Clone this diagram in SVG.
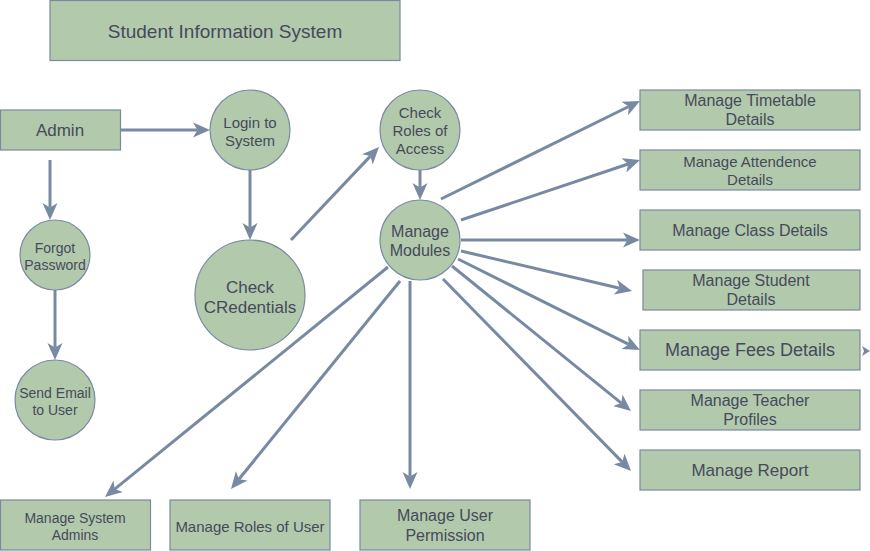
<svg xmlns="http://www.w3.org/2000/svg" width="870" height="551" viewBox="0 0 870 551">
<defs>
<style>
.n{fill:#B2C9AB;stroke:#788AA3;stroke-width:1.2}
.t{font-family:"Liberation Sans",Arial,sans-serif;fill:#46495D;text-anchor:middle}
.c{fill:none;stroke:#788AA3;stroke-width:3;marker-end:url(#ah)}
</style>
<marker id="ah" markerUnits="userSpaceOnUse" markerWidth="18" markerHeight="16" viewBox="0 0 18 16" refX="4.5" refY="8" orient="auto">
<path d="M0,0.5 L17,8 L0,15.5 L4.5,8 Z" fill="#788AA3"/>
</marker>
</defs>
<rect width="870" height="551" fill="#FFFFFF"/>
<g id="connectors">
<line class="c" x1="121" y1="130" x2="197.5" y2="130"/>
<line class="c" x1="50" y1="160" x2="50" y2="207.5"/>
<line class="c" x1="55" y1="290" x2="55" y2="347.5"/>
<line class="c" x1="250" y1="170" x2="250" y2="227.5"/>
<line class="c" x1="291" y1="240" x2="370.4" y2="156.1"/>
<line class="c" x1="420" y1="170" x2="420" y2="187.5"/>
<line class="c" x1="441" y1="199" x2="628.8" y2="106.5"/>
<line class="c" x1="461" y1="220" x2="628.2" y2="164"/>
<line class="c" x1="461" y1="240" x2="627.5" y2="240"/>
<line class="c" x1="461" y1="251" x2="619.8" y2="288.2"/>
<line class="c" x1="458" y1="259" x2="628.8" y2="344.4"/>
<line class="c" x1="452" y1="266" x2="621.3" y2="403.1"/>
<line class="c" x1="443" y1="279" x2="622.3" y2="462.1"/>
<line class="c" x1="410" y1="281" x2="410" y2="476.5"/>
<line class="c" x1="400" y1="281" x2="238.9" y2="479.3"/>
<line class="c" x1="388" y1="267" x2="114.7" y2="489.1"/>
<path d="M862,346 L870,351 L862,356 L864,351 Z" fill="#788AA3"/>
</g>
<g id="title"><rect class="n" x="50" y="0.5" width="350" height="60"/><text class="t" x="225" y="38" font-size="19">Student Information System</text></g>
<g id="admin"><rect class="n" x="0.5" y="110" width="120" height="40"/><text class="t" x="60" y="136" font-size="17">Admin</text></g>
<g id="login"><circle class="n" cx="250" cy="130" r="40"/><text class="t" font-size="15"><tspan x="250" y="128.3">Login to</tspan><tspan x="250" y="146.3">System</tspan></text></g>
<g id="forgot"><circle class="n" cx="55" cy="255" r="35"/><text class="t" font-size="14"><tspan x="55" y="253">Forgot</tspan><tspan x="55" y="269.8">Password</tspan></text></g>
<g id="sendemail"><circle class="n" cx="55" cy="400" r="40"/><text class="t" font-size="14"><tspan x="55" y="398">Send Email</tspan><tspan x="55" y="414.8">to User</tspan></text></g>
<g id="checkcred"><circle class="n" cx="250" cy="295" r="55"/><text class="t" font-size="17"><tspan x="250" y="292.5">Check</tspan><tspan x="250" y="313">CRedentials</tspan></text></g>
<g id="checkroles"><circle class="n" cx="420" cy="130" r="40"/><text class="t" font-size="15"><tspan x="420" y="118.3">Check</tspan><tspan x="420" y="136.3">Roles of</tspan><tspan x="420" y="154.3">Access</tspan></text></g>
<g id="modules"><circle class="n" cx="420" cy="240" r="40"/><text class="t" font-size="16"><tspan x="420" y="236.6">Manage</tspan><tspan x="420" y="255.8">Modules</tspan></text></g>
<g id="timetable"><rect class="n" x="640" y="90" width="220" height="40"/><text class="t" font-size="16"><tspan x="750" y="106">Manage Timetable</tspan><tspan x="750" y="125.2">Details</tspan></text></g>
<g id="attendence"><rect class="n" x="640" y="150" width="220" height="40"/><text class="t" font-size="15"><tspan x="750" y="167">Manage Attendence</tspan><tspan x="750" y="185">Details</tspan></text></g>
<g id="class"><rect class="n" x="640" y="210" width="220" height="40"/><text class="t" x="750" y="235.6" font-size="16">Manage Class Details</text></g>
<g id="student"><rect class="n" x="643" y="270" width="217" height="40"/><text class="t" font-size="16"><tspan x="751" y="286">Manage Student</tspan><tspan x="751" y="305.2">Details</tspan></text></g>
<g id="fees"><rect class="n" x="640" y="330" width="220" height="40"/><text class="t" x="750" y="356.3" font-size="18">Manage Fees Details</text></g>
<g id="teacher"><rect class="n" x="640" y="390" width="220" height="40"/><text class="t" font-size="16"><tspan x="750" y="406">Manage Teacher</tspan><tspan x="750" y="425.2">Profiles</tspan></text></g>
<g id="report"><rect class="n" x="640" y="450" width="220" height="40"/><text class="t" x="750" y="476" font-size="17">Manage Report</text></g>
<g id="sysadmins"><rect class="n" x="0.5" y="500" width="150" height="50"/><text class="t" font-size="14"><tspan x="75" y="523">Manage System</tspan><tspan x="75" y="539.8">Admins</tspan></text></g>
<g id="rolesuser"><rect class="n" x="170" y="500" width="160" height="50"/><text class="t" x="250" y="532.2" font-size="15">Manage Roles of User</text></g>
<g id="permission"><rect class="n" x="360" y="500" width="170" height="50"/><text class="t" font-size="16"><tspan x="445" y="521.3">Manage User</tspan><tspan x="445" y="540.5">Permission</tspan></text></g>
</svg>
